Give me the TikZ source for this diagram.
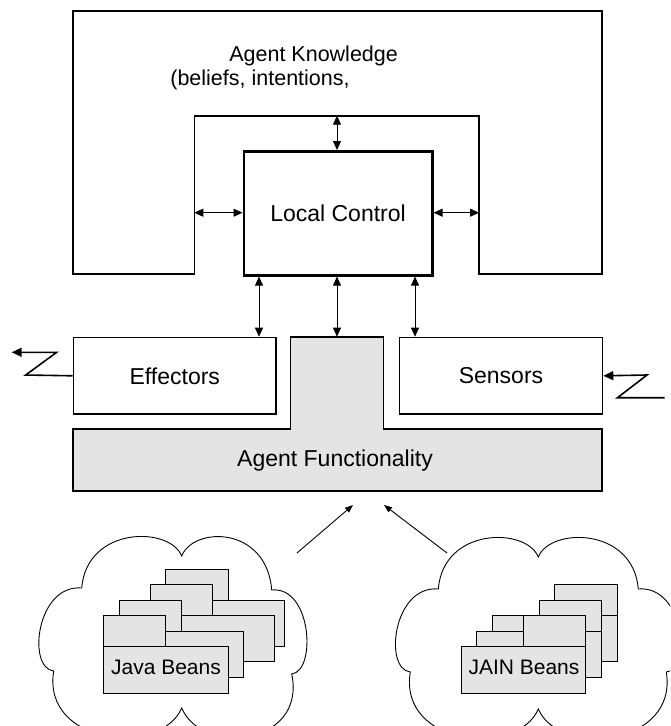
\documentclass[tikz,border=0pt]{standalone}
\usepackage{fontspec}
\setmainfont{Liberation Sans}
\usetikzlibrary{arrows.meta}
\definecolor{fillgray}{HTML}{E4E4E4}
\begin{document}
\begin{tikzpicture}[x=1pt,y=-1pt,
  box/.style={draw, line width=1.6pt, inner sep=0pt},
  dbl/.style={{Triangle[length=9pt,width=8pt]}-{Triangle[length=9pt,width=8pt]}, line width=0.9pt},
  sig/.style={-{Triangle[length=10pt,width=9pt]}, line width=1.6pt},
  cloudarrow/.style={-{Triangle[length=8pt,width=6pt]}, line width=0.9pt},
  bean/.style={draw, fill=fillgray, line width=0.8pt},
  cloudline/.style={draw, line width=0.9pt},
  lbl/.style={font=\fontsize{23}{27}\selectfont},
  slbl/.style={font=\fontsize{21.5}{25}\selectfont},
  blbl/.style={font=\fontsize{21}{25}\selectfont}]
\useasboundingbox (0,0) rectangle (670,726);
\clip (0,0) rectangle (670,726);

% Agent Knowledge frame
\draw[line width=1.6pt] (72.7,10.7) -- (601.7,10.7) -- (601.7,273.7) -- (479,273.7)
  -- (479,115.7) -- (194.3,115.7) -- (194.3,273.7) -- (72.7,273.7) -- cycle;
\node[slbl, anchor=base] (akt) at (313.6,61) {Agent Knowledge};
\node[slbl, anchor=base] (akb) at (260,85.5) {(beliefs, intentions,};

% Local Control
\node[box, line width=2.6pt, minimum width=188.5pt, minimum height=124pt,
  anchor=north west, lbl] (lc) at (242.5,150) {Local Control};

\coordinate (kt) at (337,115.7);
\coordinate (kl) at (194.3,212.7);
\coordinate (kr) at (479,212.7);
\draw[dbl] (kt) -- (kt |- lc.north);
\draw[dbl] (kl) -- (kl -| lc.west);
\draw[dbl] (lc.east |- kr) -- (kr);

% Effectors / Sensors
\node[box, minimum width=202.6pt, minimum height=76.6pt, anchor=north west, lbl]
  (eff) at (72.7,336.7) {Effectors};
\node[box, minimum width=203pt, minimum height=76.6pt, anchor=north west, lbl]
  (sens) at (398.7,336.7) {Sensors};

% Agent Functionality
\draw[line width=1.6pt, fill=fillgray] (72.7,429) -- (290.6,429) -- (290.6,336.7)
  -- (383.3,336.7) -- (383.3,429) -- (601.7,429) -- (601.7,490.7) -- (72.7,490.7) -- cycle;
\node[lbl, anchor=base] (aft) at (335,466) {Agent Functionality};

% arrows Local Control <-> lower boxes
\coordinate (e1) at (259,336.7);
\coordinate (m1) at (337,336.7);
\coordinate (s1) at (415,336.7);
\draw[dbl] (e1 |- lc.south) -- (e1);
\draw[dbl] (m1 |- lc.south) -- (m1);
\draw[dbl] (s1 |- lc.south) -- (s1);

% zigzag signals
\coordinate (ez1) at (25.7,375);
\coordinate (ez2) at (56.7,352.3);
\coordinate (ez3) at (11.7,352.3);
\draw[sig] (eff.west) -- (ez1) -- (ez2) -- (ez3);
\coordinate (sz0) at (664.5,397.7);
\coordinate (sz1) at (617.5,397.7);
\coordinate (sz2) at (647,375);
\draw[sig] (sz0) -- (sz1) -- (sz2) -- (sens.east);

% clouds
\draw[cloudline, shift={(181.7,556)}] (0,0) .. controls (12,-30) and (85,-30) .. (90,34)
  .. controls (130,30) and (135,115) .. (110,118)
  .. controls (125,190) and (20,200) .. (0,152)
  .. controls (-20,200) and (-140,190) .. (-128,115)
  .. controls (-155,112) and (-145,28) .. (-100,32)
  .. controls (-95,-30) and (-12,-30) .. (0,0) -- cycle;
\draw[cloudline, shift={(538.3,557)}] (0,0) .. controls (12,-30) and (95,-30) .. (100,32)
  .. controls (145,28) and (155,112) .. (128,115)
  .. controls (140,190) and (20,200) .. (0,152)
  .. controls (-20,200) and (-140,190) .. (-128,115)
  .. controls (-155,112) and (-145,28) .. (-100,32)
  .. controls (-95,-30) and (-12,-30) .. (0,0) -- cycle;

% cloud arrows
\coordinate (ja) at (297,553);
\coordinate (jt) at (353,505);
\coordinate (na) at (447,553);
\coordinate (nt) at (384,505);
\draw[cloudarrow] (ja) -- (jt);
\draw[cloudarrow] (na) -- (nt);

% Java beans stack
\draw[bean] (165.7,569) rectangle (228.3,615);
\draw[bean] (150.7,584) rectangle (212.3,630);
\draw[bean] (212.3,600) rectangle (284,646);
\draw[bean] (119.3,600) rectangle (181.7,646);
\draw[bean] (181.7,615.7) rectangle (274.3,661.7);
\draw[bean] (103.3,615.7) rectangle (165.7,661.7);
\draw[bean] (165.7,631.7) rectangle (243.3,677.3);
\draw[bean] (103.3,646.7) rectangle (228.3,693.3);
\node[blbl, anchor=base] (jb) at (166,674) {Java Beans};

% JAIN beans stack
\draw[bean] (554.3,584) rectangle (617.3,615.7);
\draw[bean] (554.3,615.7) rectangle (617.3,661.7);
\draw[bean] (539,600) rectangle (601,631.7);
\draw[bean] (539,631.7) rectangle (601,677.3);
\draw[bean] (492.3,615.7) rectangle (523.3,661.7);
\draw[bean] (523.3,615.7) rectangle (585,661.7);
\draw[bean] (476.7,631.7) rectangle (523.3,677.3);
\draw[bean] (461.7,646.7) rectangle (585,693.3);
\node[blbl, anchor=base] (nb) at (524,674) {JAIN Beans};
\end{tikzpicture}
\end{document}
